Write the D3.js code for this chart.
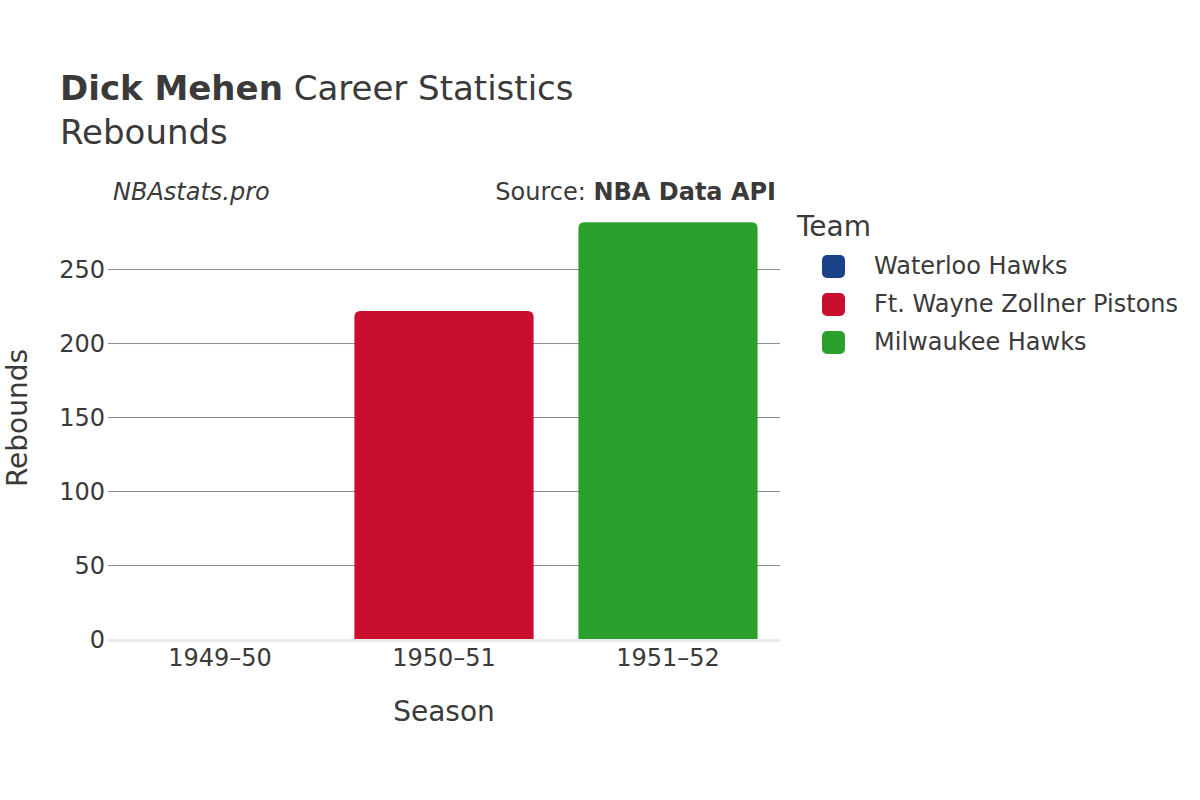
<!DOCTYPE html>
<html>
<head>
<meta charset="utf-8">
<script src="https://cdn.jsdelivr.net/npm/d3@7"></script>
<style>
    body { margin: 0; background: #fff; }
    svg text { font-family: "DejaVu Sans", sans-serif; fill: #3a3a3a; }
</style>
</head>
<body>
<svg width="1200" height="800"></svg>
<script>
var seasons = ["1949–50", "1950–51", "1951–52"];
var teams = ["Waterloo Hawks", "Ft. Wayne Zollner Pistons", "Milwaukee Hawks"];
var rebounds = [0, 222, 282];
var teamColors = ["#1a4288", "#c8102e", "#2ca02c"];
var yTicks = [0, 50, 100, 150, 200, 250];

var svg = d3.select("svg");
var plotLeft = 108, plotRight = 780, plotTop = 200, plotBottom = 639.5;

var x = d3.scaleBand().domain(seasons).range([plotLeft, plotRight])
    .paddingInner(0.2).paddingOuter(0.1);
var y = d3.scaleLinear().domain([0, 297]).range([plotBottom, plotTop]);
var color = d3.scaleOrdinal().domain(teams).range(teamColors);

// title
var title = svg.append("text").attr("x", 60).attr("y", 100).style("font-size", "34px");
title.append("tspan").style("font-weight", "bold").text("Dick Mehen");
title.append("tspan").text(" Career Statistics");
svg.append("text").attr("x", 60).attr("y", 144).style("font-size", "34px").text("Rebounds");

svg.append("text").attr("x", 113).attr("y", 200)
    .style("font-size", "24px").style("font-style", "italic").text("NBAstats.pro");
var src = svg.append("text").attr("x", 776).attr("y", 200)
    .attr("text-anchor", "end").style("font-size", "24px");
src.append("tspan").text("Source: ");
src.append("tspan").style("font-weight", "bold").text("NBA Data API");

// gridlines
svg.append("g").selectAll("line").data(yTicks.filter(d => d > 0)).enter()
    .append("line")
    .attr("x1", plotLeft).attr("x2", plotRight)
    .attr("y1", d => y(d)).attr("y2", d => y(d))
    .attr("stroke", "#8c8c8c").attr("stroke-width", 1);

// y tick labels
svg.append("g").selectAll("text").data(yTicks).enter()
    .append("text")
    .attr("x", 105).attr("y", d => y(d) + 8)
    .attr("text-anchor", "end")
    .style("font-size", "24px")
    .text(d => d);

// bars
svg.append("g").selectAll("path").data(seasons.map((s, i) => ({ season: s, team: teams[i], value: rebounds[i] }))).enter()
    .append("path")
    .attr("fill", d => color(d.team))
    .attr("d", d => {
        var x0 = x(d.season), w = x.bandwidth(), y0 = y(d.value), h = plotBottom - y0;
        var r = Math.min(6, h / 2);
        if (h <= 0) return "";
        return `M${x0},${plotBottom}V${y0 + r}Q${x0},${y0} ${x0 + r},${y0}H${x0 + w - r}Q${x0 + w},${y0} ${x0 + w},${y0 + r}V${plotBottom}Z`;
    });

// zero line
svg.append("line")
    .attr("x1", plotLeft).attr("x2", plotRight)
    .attr("y1", y(0) + 1).attr("y2", y(0) + 1)
    .attr("stroke", "#ebebeb").attr("stroke-width", 3);

// x tick labels
svg.append("g").selectAll("text").data(seasons).enter()
    .append("text")
    .attr("x", d => x(d) + x.bandwidth() / 2).attr("y", 666)
    .attr("text-anchor", "middle")
    .style("font-size", "24px")
    .text(d => d);

// axis titles
svg.append("text").attr("x", (plotLeft + plotRight) / 2).attr("y", 721)
    .attr("text-anchor", "middle").style("font-size", "28px").text("Season");
svg.append("text")
    .attr("transform", `translate(27, 418) rotate(-90)`)
    .attr("text-anchor", "middle").style("font-size", "28px").text("Rebounds");

// legend
svg.append("text").attr("x", 797).attr("y", 236).style("font-size", "28px").text("Team");
var legend = svg.append("g").selectAll("g").data(teams).enter()
    .append("g")
    .attr("transform", (d, i) => `translate(822, ${266 + i * 38})`);
legend.append("rect")
    .attr("x", 0).attr("y", -11).attr("width", 23).attr("height", 23)
    .attr("rx", 5).attr("fill", d => color(d));
legend.append("text")
    .attr("x", 52).attr("y", 8)
    .style("font-size", "24px")
    .text(d => d);
</script>
</body>
</html>
